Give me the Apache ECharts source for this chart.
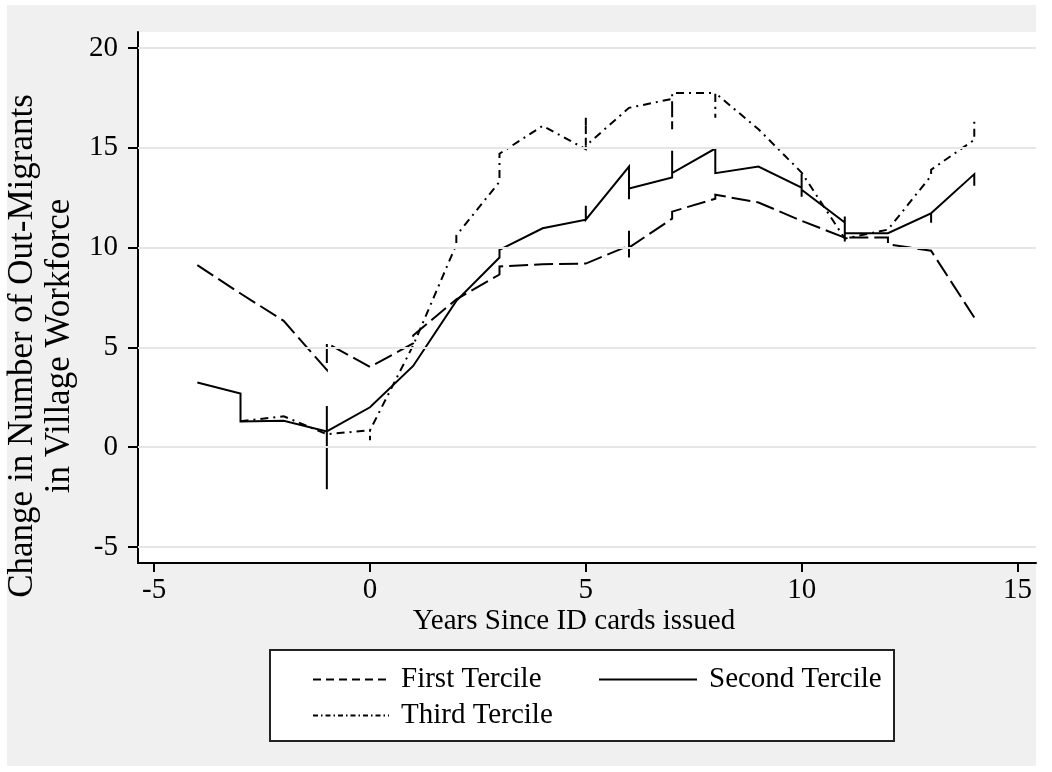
<!DOCTYPE html>
<html>
<head>
<meta charset="utf-8">
<script src="https://cdn.jsdelivr.net/npm/echarts@6/dist/echarts.min.js"></script>
<style>
html,body{margin:0;padding:0;background:#fff;}
#chart{width:1052px;height:772px;}
</style>
</head>
<body>
<div id="chart"></div>
<script>
// ---- data ----
const xTicks = [-5, 0, 5, 10, 15];
const yTicks = [-5, 0, 5, 10, 15, 20];
const seriesNames = ['First Tercile', 'Second Tercile', 'Third Tercile'];
const xTitle = 'Years Since ID cards issued';
const yTitleLines = ['Change in Number of Out-Migrants', 'in Village Workforce'];

// [years since ID cards issued, change in out-migrants]; repeated years give the vertical jumps
const firstTercile = [
  [-4, 9.12], [-3, 7.7], [-2, 6.33], [-1, 3.87], [-1, 5.21], [0, 4.02],
  [1, 5.2], [1, 5.6], [2, 7.41], [3, 8.65], [3, 9.05], [4, 9.17], [5, 9.2],
  [6, 10.1], [6, 10.85], [6, 9.5], [6, 10.0], [7, 11.45], [7, 11.8],
  [8, 12.45], [8, 12.65], [9, 12.26], [10, 11.34], [11, 10.5],
  [12, 10.5], [12, 10.17], [13, 9.84], [14, 6.5]
];
const secondTercile = [
  [-4, 3.24], [-3, 2.69], [-3, 1.29], [-2, 1.32], [-1, 0.79], [-1, 2.07],
  [-1, -2.1], [-1, 0.79], [0, 2.0], [1, 4.07], [2, 7.33], [3, 9.5], [3, 9.89],
  [4, 10.97], [5, 11.4], [5, 12.1], [5, 11.4], [6, 14.06], [6, 12.42], [6, 12.96],
  [7, 13.51], [7, 14.85], [7, 13.73], [8, 14.96], [8, 13.73], [9, 14.06],
  [10, 13.0], [10, 13.7], [10, 12.55], [10, 12.9], [11, 11.26], [11, 11.56],
  [11, 10.3], [11, 10.72], [12, 10.72], [13, 11.72], [13, 11.25], [13, 11.72],
  [14, 13.68], [14, 13.1]
];
const thirdTercile = [
  [-3, 1.3], [-2, 1.55], [-1, 0.65], [0, 0.85], [0, 0.35], [0, 0.85],
  [1, 5.1], [2, 10.15], [2, 10.6], [3, 13.3], [3, 14.7], [4, 16.1],
  [5, 14.93], [5, 16.6], [5, 15.1], [6, 17.0], [7, 17.45], [7, 15.93], [7, 17.74],
  [8, 17.74], [8, 16.5], [8, 17.74], [9, 15.93], [10, 13.76], [11, 10.45],
  [12, 10.9], [13, 13.6], [13, 13.9], [14, 15.4], [14, 16.3]
];

// ---- styling ----
const FONT = "'Liberation Serif', 'DejaVu Serif', serif";
const FS = 29;
const FS_YTITLE = 35;
const dashFirst = [19, 6];
const dashThird = [8, 5, 2, 5];

const chart = echarts.init(document.getElementById('chart'), null, {renderer: 'canvas'});

function lineSeries(name, data, type, z) {
  return {
    name: name, type: 'line', data: data, symbol: 'none', showSymbol: false,
    animation: false, silent: true, z: z,
    itemStyle: {color: '#000'},
    lineStyle: {color: '#000', width: 2, type: type, cap: 'butt', join: 'miter'}
  };
}

function legendAt(name, left, top, width, dash) {
  return {
    data: [name], left: left, top: top, orient: 'horizontal', padding: 0,
    itemWidth: width, itemHeight: 14, selectedMode: false,
    textStyle: {fontSize: FS, fontFamily: FONT, color: '#000', padding: [0, 0, 0, 7]},
    lineStyle: {type: dash, width: 2, color: '#000'},
    itemStyle: {opacity: 0}
  };
}

const option = {
  backgroundColor: '#fff',
  animation: false,
  grid: {left: 138, top: 32, right: 16, bottom: 209, show: true,
         backgroundColor: '#fff', borderWidth: 0, containLabel: false},
  xAxis: {
    type: 'value', min: -5.375, max: 15.43,
    axisLine: {show: true, onZero: false, lineStyle: {color: '#000', width: 2}},
    axisTick: {show: true, customValues: xTicks, length: 9, inside: false,
               lineStyle: {color: '#000', width: 2}},
    axisLabel: {show: true, customValues: xTicks, margin: 13, fontSize: FS,
                fontFamily: FONT, color: '#000'},
    splitLine: {show: false}
  },
  yAxis: {
    type: 'value', min: -5.8, max: 20.8,
    axisLine: {show: true, onZero: false, lineStyle: {color: '#000', width: 2}},
    axisTick: {show: true, customValues: yTicks, length: 10, inside: false,
               lineStyle: {color: '#000', width: 2}},
    axisLabel: {show: true, customValues: yTicks, margin: 20, fontSize: FS,
                fontFamily: FONT, color: '#000'},
    splitLine: {show: false}
  },
  legend: [
    legendAt(seriesNames[0], 312, 665, 76, [8, 5]),
    legendAt(seriesNames[1], 598, 665, 98, 'solid'),
    legendAt(seriesNames[2], 312, 701, 76, [5, 3, 1.5, 3])
  ],
  graphic: [
    {type: 'rect', z: -100, silent: true, shape: {x: 7, y: 5, width: 1029, height: 761},
     style: {fill: '#f0f0f0'}},
    {type: 'rect', z: 0, silent: true, shape: {x: 270, y: 650, width: 624, height: 91},
     style: {fill: '#fff', stroke: '#222', lineWidth: 2}},
    {type: 'text', silent: true, x: 574, y: 621,
     style: {text: xTitle, font: FS + 'px ' + FONT, fill: '#000', align: 'center', verticalAlign: 'middle'}},
    {type: 'text', silent: true, x: 23, y: 346, rotation: Math.PI / 2,
     style: {text: yTitleLines[0], font: FS_YTITLE + 'px ' + FONT, fill: '#000', align: 'center', verticalAlign: 'middle'}},
    {type: 'text', silent: true, x: 60, y: 346, rotation: Math.PI / 2,
     style: {text: yTitleLines[1], font: FS_YTITLE + 'px ' + FONT, fill: '#000', align: 'center', verticalAlign: 'middle'}}
  ],
  series: [
    {
      name: 'grid', type: 'line', data: [], z: 1, silent: true, animation: false,
      markLine: {
        silent: true, symbol: 'none', animation: false,
        label: {show: false},
        lineStyle: {color: '#e6e6e6', width: 2, type: 'solid'},
        data: yTicks.map(v => ({yAxis: v}))
      }
    },
    lineSeries(seriesNames[0], firstTercile, dashFirst, 3),
    lineSeries(seriesNames[1], secondTercile, 'solid', 4),
    lineSeries(seriesNames[2], thirdTercile, dashThird, 3)
  ]
};
chart.setOption(option);
</script>
</body>
</html>
